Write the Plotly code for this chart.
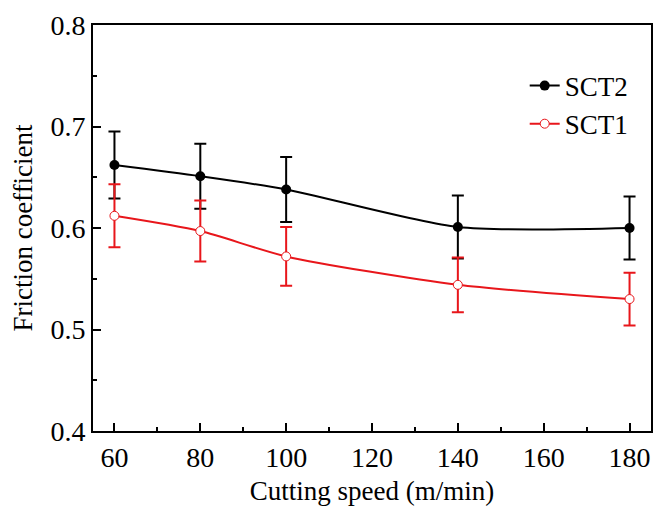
import plotly.graph_objects as go

# Cutting speed (m/min)
speed = [60, 80, 100, 140, 180]

# Friction coefficient, SCT2 (black) and SCT1 (red)
sct2 = [0.662, 0.651, 0.638, 0.601, 0.600]
sct2_err = [0.033, 0.032, 0.032, 0.031, 0.031]
sct1 = [0.612, 0.597, 0.572, 0.544, 0.530]
sct1_err = [0.031, 0.030, 0.029, 0.027, 0.026]

font = "Liberation Serif, Times New Roman, serif"

fig = go.Figure()
fig.add_trace(go.Scatter(
    x=speed, y=sct2, name="SCT2", mode="lines+markers",
    line=dict(color="black", width=2, shape="spline", smoothing=0.7),
    marker=dict(color="black", size=10),
    error_y=dict(type="data", array=sct2_err, color="black", thickness=2, width=6),
))
fig.add_trace(go.Scatter(
    x=speed, y=sct1, name="SCT1", mode="lines+markers",
    line=dict(color="#e8161b", width=2, shape="spline", smoothing=0.7),
    marker=dict(color="white", size=9, line=dict(color="#e8161b", width=1)),
    error_y=dict(type="data", array=sct1_err, color="#e8161b", thickness=2, width=6),
))

# page body has an 8px margin, so the figure is a little smaller than the window
fig.update_layout(
    width=653, height=513,
    margin=dict(l=85, r=10, t=17, b=90),
    plot_bgcolor="white", paper_bgcolor="white",
    font=dict(family=font, size=27, color="black"),
    showlegend=True,
    legend=dict(x=0.969, y=0.91, xanchor="right", yanchor="top",
                bgcolor="rgba(0,0,0,0)", font=dict(size=27),
                tracegroupgap=0),
)
fig.update_xaxes(
    range=[55, 185], tickvals=[60, 80, 100, 120, 140, 160, 180],
    ticks="inside", ticklen=8, tickwidth=1.5, tickcolor="black",
    minor=dict(dtick=10, tick0=50, ticks="inside", ticklen=4, tickcolor="black"),
    showline=True, linecolor="black", linewidth=2, mirror=True,
    showgrid=False, zeroline=False, automargin=False,
    tickfont=dict(size=28), ticklabeloverflow="allow",
    title=dict(text="Cutting speed (m/min)", font=dict(size=27), standoff=10),
)
fig.update_yaxes(
    range=[0.4, 0.8], tickvals=[0.4, 0.5, 0.6, 0.7, 0.8], tickformat=".1f",
    ticks="inside", ticklen=8, tickwidth=1.5, tickcolor="black",
    minor=dict(dtick=0.05, tick0=0.4, ticks="inside", ticklen=4, tickcolor="black"),
    showline=True, linecolor="black", linewidth=2, mirror=True,
    showgrid=False, zeroline=False, automargin=False,
    tickfont=dict(size=28), ticklabeloverflow="allow",
    title=dict(text="Friction coefficient", font=dict(size=27), standoff=12),
)

fig.write_html("out.html")
